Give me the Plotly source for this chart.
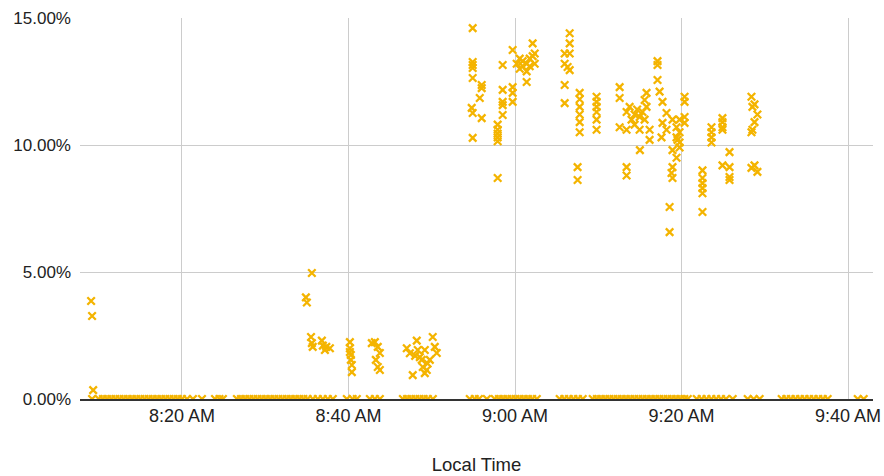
import plotly.graph_objects as go
import pandas as pd

DAY = "2021-01-01 "

# Non-zero samples: local time and value (%)
point_times = [
    "08:09:05", "08:09:12", "08:09:20",
    "08:35:36", "08:34:53", "08:35:00", "08:35:30", "08:35:36", "08:35:42",
    "08:36:48", "08:36:55", "08:37:10", "08:37:46", "08:37:20",
    "08:40:10", "08:40:10", "08:40:17", "08:40:17", "08:40:24", "08:40:24", "08:40:10",
    "08:42:48", "08:43:10", "08:43:31", "08:43:46", "08:43:17", "08:43:31", "08:43:46",
    "08:47:00", "08:47:22", "08:47:43", "08:48:12", "08:48:19", "08:48:48", "08:48:55",
    "08:49:24", "08:49:46", "08:50:07", "08:50:22", "08:50:36", "08:48:34", "08:49:10",
    "08:49:10", "08:48:00", "08:49:30",
    "08:54:55", "08:54:55", "08:54:55", "08:54:55", "08:54:55", "08:56:00", "08:56:00",
    "08:55:46", "08:54:48", "08:54:55", "08:56:00", "08:54:55",
    "08:58:31", "08:58:31", "08:58:31", "08:58:31", "08:58:31", "08:57:55", "08:57:55",
    "08:57:55", "08:57:55", "08:57:55", "08:57:55",
    "08:59:43", "08:59:43", "08:59:43", "08:59:43",
    "09:00:12", "09:00:34", "09:00:34", "09:00:55", "09:00:55", "09:01:24", "09:01:24",
    "09:01:46", "09:01:46", "09:02:07", "09:02:07", "09:02:22", "09:02:22", "09:01:24",
    "09:06:34", "09:06:34", "09:06:34", "09:05:58", "09:05:58", "09:06:19", "09:06:34",
    "09:05:58", "09:05:58",
    "09:07:46", "09:07:46", "09:07:46", "09:07:46", "09:07:46", "09:07:46",
    "09:07:31", "09:07:31",
    "09:09:48", "09:09:48", "09:09:48", "09:09:48", "09:09:48", "09:09:48",
    "09:12:34", "09:12:34", "09:12:34", "09:13:24", "09:13:24", "09:13:24", "09:13:24",
    "09:13:46", "09:14:00", "09:14:22", "09:14:22", "09:14:40", "09:14:58", "09:14:58",
    "09:15:19", "09:15:34", "09:15:48", "09:15:34", "09:16:10", "09:15:00", "09:16:10",
    "09:15:48",
    "09:17:07", "09:17:07", "09:17:07", "09:17:22", "09:17:43", "09:18:12", "09:17:43",
    "09:18:12", "09:17:36", "09:18:55", "09:19:24", "09:19:24", "09:19:31", "09:18:55",
    "09:19:24", "09:18:55", "09:18:48", "09:18:55", "09:18:34", "09:18:34", "09:19:46",
    "09:19:46", "09:19:46", "09:19:46", "09:20:22", "09:20:22", "09:20:22", "09:20:22",
    "09:22:31", "09:22:31", "09:22:31", "09:22:31", "09:22:31", "09:22:31",
    "09:23:36", "09:23:36", "09:23:36", "09:23:36",
    "09:24:55", "09:24:55", "09:24:55", "09:24:55",
    "09:25:46", "09:24:55", "09:25:46", "09:25:46", "09:25:46",
    "09:28:24", "09:28:46", "09:28:31", "09:29:07", "09:28:46", "09:28:31", "09:28:24",
    "09:28:46", "09:29:07", "09:28:24",
]
point_values = [
    3.86, 3.27, 0.35,
    4.96, 4.00, 3.80, 2.44, 2.20, 2.05,
    2.30, 2.10, 1.93, 2.00, 2.05,
    2.24, 2.00, 1.73, 1.54, 1.34, 1.06, 1.85,
    2.20, 2.24, 2.05, 1.81, 1.54, 1.26, 1.14,
    2.00, 1.80, 0.94, 2.30, 1.93, 1.54, 1.26,
    1.14, 1.54, 2.44, 2.05, 1.81, 1.65, 1.93,
    1.02, 1.70, 1.40,
    14.60, 13.27, 13.15, 13.03, 12.64, 12.36, 12.24,
    11.85, 11.46, 11.26, 11.06, 10.28,
    13.15, 12.17, 11.70, 11.57, 11.18, 10.80, 10.60,
    10.45, 10.30, 10.15, 8.70,
    13.74, 12.28, 12.05, 11.70,
    13.20, 13.00, 13.40, 13.10, 13.30, 13.20, 12.90,
    13.40, 13.10, 14.00, 13.50, 13.60, 13.20, 12.48,
    14.40, 14.00, 13.60, 13.60, 13.20, 13.07, 12.95,
    12.36, 11.65,
    12.05, 11.80, 11.50, 11.20, 10.90, 10.50,
    9.13, 8.62,
    11.90, 11.70, 11.50, 11.30, 11.00, 10.60,
    12.28, 11.85, 10.70, 10.60, 9.13, 8.80, 11.30,
    11.50, 11.00, 11.20, 10.80, 11.40, 11.10, 10.60,
    11.30, 11.77, 12.05, 11.00, 10.60, 9.80, 10.20,
    11.50,
    13.30, 13.15, 12.56, 12.10, 11.70, 11.26, 10.87,
    10.60, 10.30, 11.00, 10.70, 10.30, 10.20, 9.80,
    9.50, 9.13, 8.90, 8.70, 7.56, 6.57, 11.00,
    10.50, 10.10, 9.90, 11.90, 11.70, 11.10, 10.87,
    9.00, 8.70, 8.50, 8.30, 8.10, 7.36,
    10.70, 10.50, 10.30, 10.10,
    11.06, 10.90, 10.70, 10.60,
    9.72, 9.20, 9.13, 8.74, 8.62,
    11.90, 11.60, 11.50, 11.20, 10.90, 10.60, 10.50,
    9.20, 8.94, 9.10,
]

# Samples that read 0.00%
zero_times = [
    "08:09:12", "08:10:00", "08:10:30", "08:11:00", "08:11:30", "08:12:00", "08:12:30",
    "08:13:00", "08:13:30", "08:14:00", "08:14:30", "08:15:00", "08:15:30", "08:16:00",
    "08:16:30", "08:17:00", "08:17:30", "08:18:00", "08:18:30", "08:19:00", "08:19:30",
    "08:20:00", "08:20:36", "08:21:19", "08:22:24", "08:23:58", "08:24:30", "08:24:55",
    "08:26:36", "08:27:05", "08:27:35", "08:28:05", "08:28:35", "08:29:05", "08:29:35",
    "08:30:05", "08:30:35", "08:31:05", "08:31:35", "08:32:05", "08:32:35", "08:33:05",
    "08:33:35", "08:34:05", "08:34:35", "08:35:05", "08:35:43",
    "08:36:19", "08:36:55", "08:37:31", "08:38:07",
    "08:39:48", "08:40:30", "08:41:00",
    "08:42:34", "08:43:10", "08:43:46",
    "08:46:32", "08:47:02", "08:47:32", "08:48:02", "08:48:32", "08:49:02", "08:49:32",
    "08:50:08",
    "08:54:34", "08:55:10", "08:55:40", "08:56:37",
    "08:57:34", "08:58:04", "08:58:34", "08:59:04", "08:59:34", "09:00:04", "09:00:34",
    "09:01:04", "09:01:34", "09:02:04", "09:02:37",
    "09:05:22", "09:05:55", "09:06:28", "09:07:01", "09:07:34", "09:08:08",
    "09:09:20", "09:09:50", "09:10:20", "09:10:50", "09:11:20", "09:11:50", "09:12:20",
    "09:12:50", "09:13:20", "09:13:50", "09:14:20", "09:14:50", "09:15:20", "09:15:50",
    "09:16:20", "09:16:50", "09:17:20", "09:17:50", "09:18:20", "09:18:50", "09:19:20",
    "09:19:50", "09:20:20", "09:20:45",
    "09:21:50", "09:22:25", "09:23:00", "09:23:35", "09:24:10", "09:24:45", "09:25:20",
    "09:26:09",
    "09:27:57", "09:28:40", "09:29:23",
    "09:32:02", "09:32:35", "09:33:08", "09:33:41", "09:34:14", "09:34:47", "09:35:20",
    "09:35:53", "09:36:26", "09:36:59", "09:37:33",
    "09:41:10", "09:41:53",
]
zero_values = [0.0] * len(zero_times)

x_tick_times = ["08:20:00", "08:40:00", "09:00:00", "09:20:00", "09:40:00"]
x_tick_labels = ["8:20 AM", "8:40 AM", "9:00 AM", "9:20 AM", "9:40 AM"]
y_ticks = [0, 5, 10, 15]
y_tick_labels = ["0.00%", "5.00%", "10.00%", "15.00%"]
x_range = ["08:07:45", "09:43:00"]
y_range = [0, 15]

COLOR = "#F4B400"
FONT = "Liberation Sans, Arial, Helvetica, sans-serif"

all_times = pd.to_datetime([DAY + t for t in zero_times + point_times])
all_values = zero_values + point_values

fig = go.Figure()
fig.add_trace(go.Scatter(
    x=all_times, y=all_values, mode="markers",
    marker=dict(symbol="x-thin", size=7.5, color=COLOR,
                line=dict(width=2.3, color=COLOR)),
    cliponaxis=True, showlegend=False,
))

fig.update_layout(
    width=884, height=476,
    margin=dict(l=80, r=11, t=18, b=77),
    paper_bgcolor="white", plot_bgcolor="white",
    font=dict(family=FONT, size=17, color="#222222"),
)
fig.update_xaxes(
    range=[pd.Timestamp(DAY + x_range[0]), pd.Timestamp(DAY + x_range[1])],
    tickvals=pd.to_datetime([DAY + t for t in x_tick_times]),
    ticktext=x_tick_labels,
    showgrid=True, gridcolor="#cccccc", gridwidth=1,
    showline=True, linecolor="#333333", linewidth=1.5,
    ticks="", tickfont=dict(size=18),
    title=dict(text="Local Time", font=dict(size=18.5), standoff=33),
    zeroline=False, automargin=False,
)
fig.update_yaxes(
    range=y_range, tickvals=y_ticks, ticktext=y_tick_labels,
    showgrid=True, gridcolor="#cccccc", gridwidth=1,
    zeroline=False, showline=False, ticks="",
    tickfont=dict(size=17), ticklabelstandoff=8, automargin=False,
)

# remove the page's default body margin so the figure fills the window exactly
fig.write_html(
    "out.html",
    config={"displayModeBar": False},
    post_script="document.body.style.margin='0';document.body.style.overflow='hidden';",
)
